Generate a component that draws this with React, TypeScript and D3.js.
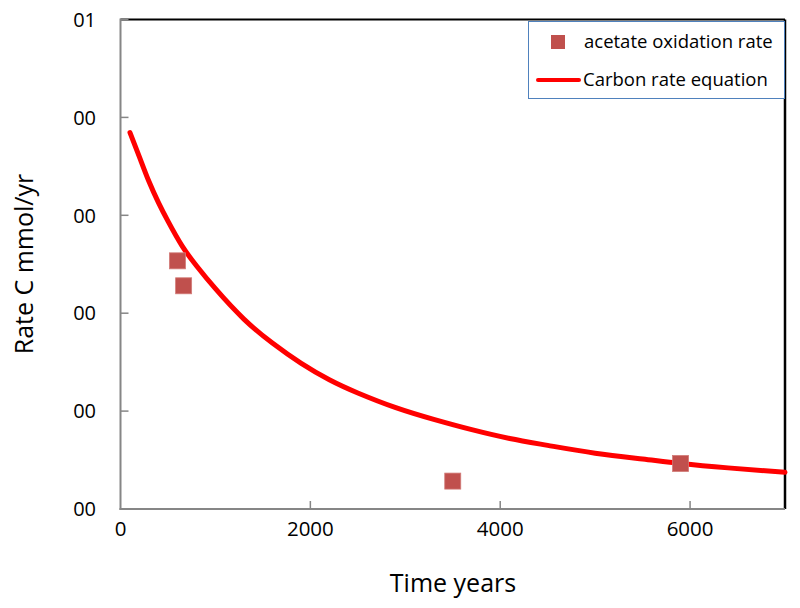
import React from "react";
import * as d3 from "d3";

// measured points (years, rate)
const obsYears = [600, 665, 3500, 5900];
const obsRates = [0.0507, 0.0456, 0.0057, 0.0093];

// rate equation curve
const curveYears = [100, 200, 300, 400, 500, 650, 800, 1000, 1300, 1600, 1900, 2200, 2500, 2900, 3300, 3700, 4100, 4500, 5000, 5500, 5900, 6400, 7000];
const curveRates = [0.0769, 0.0719, 0.0669, 0.0626, 0.0588, 0.0537, 0.0497, 0.045, 0.0388, 0.0339, 0.0298, 0.0264, 0.0237, 0.0207, 0.0183, 0.0162, 0.0144, 0.013, 0.0114, 0.0102, 0.0093, 0.0084, 0.0075];

const xTicks = [0, 2000, 4000, 6000];
const yTicks = [0, 0.02, 0.04, 0.06, 0.08, 0.1];
const yTickLabels = ["00", "00", "00", "00", "00", "01"];

const font = "'Open Sans', sans-serif";

const App = () => {
  const width = 800;
  const height = 608;
  const x = d3.scaleLinear().domain([0, 7000]).range([120.5, 785]);
  const y = d3.scaleLinear().domain([0, 0.1]).range([509, 19.5]);

  const curve = curveYears.map((t, i) => [t, curveRates[i]] as [number, number]);
  const line = d3
    .line<[number, number]>()
    .x((d) => x(d[0]))
    .y((d) => y(d[1]))
    .curve(d3.curveNatural);

  const [x0, x1] = x.range();
  const [y0, y1] = y.range();

  return (
    <svg width={width} height={height} style={{ position: "absolute", left: 0, top: 0, background: "#fff" }}>
      {/* plot frame */}
      <line x1={x0} x2={x1} y1={y1} y2={y1} stroke="#000" strokeWidth={2} />
      <line x1={x1} x2={x1} y1={y1} y2={y0} stroke="#000" strokeWidth={2.5} />

      {/* curve */}
      <path d={line(curve) || ""} fill="none" stroke="#ff0000" strokeWidth={5} strokeLinecap="round" />

      {/* observations */}
      {obsYears.map((t, i) => (
        <rect key={i} x={x(t) - 8} y={y(obsRates[i]) - 8} width={16} height={16} fill="#c0504d" stroke="#d27a77" strokeWidth={0.8} />
      ))}

      {/* axes */}
      <line x1={x0} x2={x0} y1={y1 - 1} y2={y0 + 1} stroke="#868686" strokeWidth={2} />
      <line x1={x0 - 1} x2={x1} y1={y0} y2={y0} stroke="#868686" strokeWidth={2} />
      {yTicks.map((v, i) => (
        <g key={"y" + i}>
          <line x1={x0} x2={x0 + 8} y1={y(v)} y2={y(v)} stroke="#868686" strokeWidth={1.5} />
          <text x={96} y={y(v)} dy="0.36em" textAnchor="end" fontFamily={font} fontSize={20} fill="#000">
            {yTickLabels[i]}
          </text>
        </g>
      ))}
      {xTicks.map((v, i) => (
        <g key={"x" + i}>
          {v > 0 && <line x1={x(v)} x2={x(v)} y1={y0} y2={y0 - 8} stroke="#868686" strokeWidth={1.5} />}
          <text x={x(v)} y={536} textAnchor="middle" fontFamily={font} fontSize={20.5} fill="#000">
            {v}
          </text>
        </g>
      ))}

      {/* axis titles */}
      <text x={453} y={592} textAnchor="middle" fontFamily={font} fontSize={25} fill="#000">
        Time years
      </text>
      <text
        transform={`translate(33, 264) rotate(-90)`}
        textAnchor="middle"
        fontFamily={font}
        fontSize={25}
        fill="#000"
      >
        Rate C mmol/yr
      </text>

      {/* legend */}
      <rect x={528.5} y={21.5} width={256} height={77} fill="#fff" stroke="#4f81bd" strokeWidth={1} />
      <rect x={551} y={35} width={14} height={14} fill="#c0504d" />
      <text x={584} y={42} dy="0.35em" fontFamily={font} fontSize={18.5} fill="#000">
        acetate oxidation rate
      </text>
      <line x1={538} x2={579} y1={80} y2={80} stroke="#ff0000" strokeWidth={4} strokeLinecap="round" />
      <text x={583} y={80} dy="0.35em" fontFamily={font} fontSize={18.5} fill="#000">
        Carbon rate equation
      </text>
    </svg>
  );
};

export default App;
